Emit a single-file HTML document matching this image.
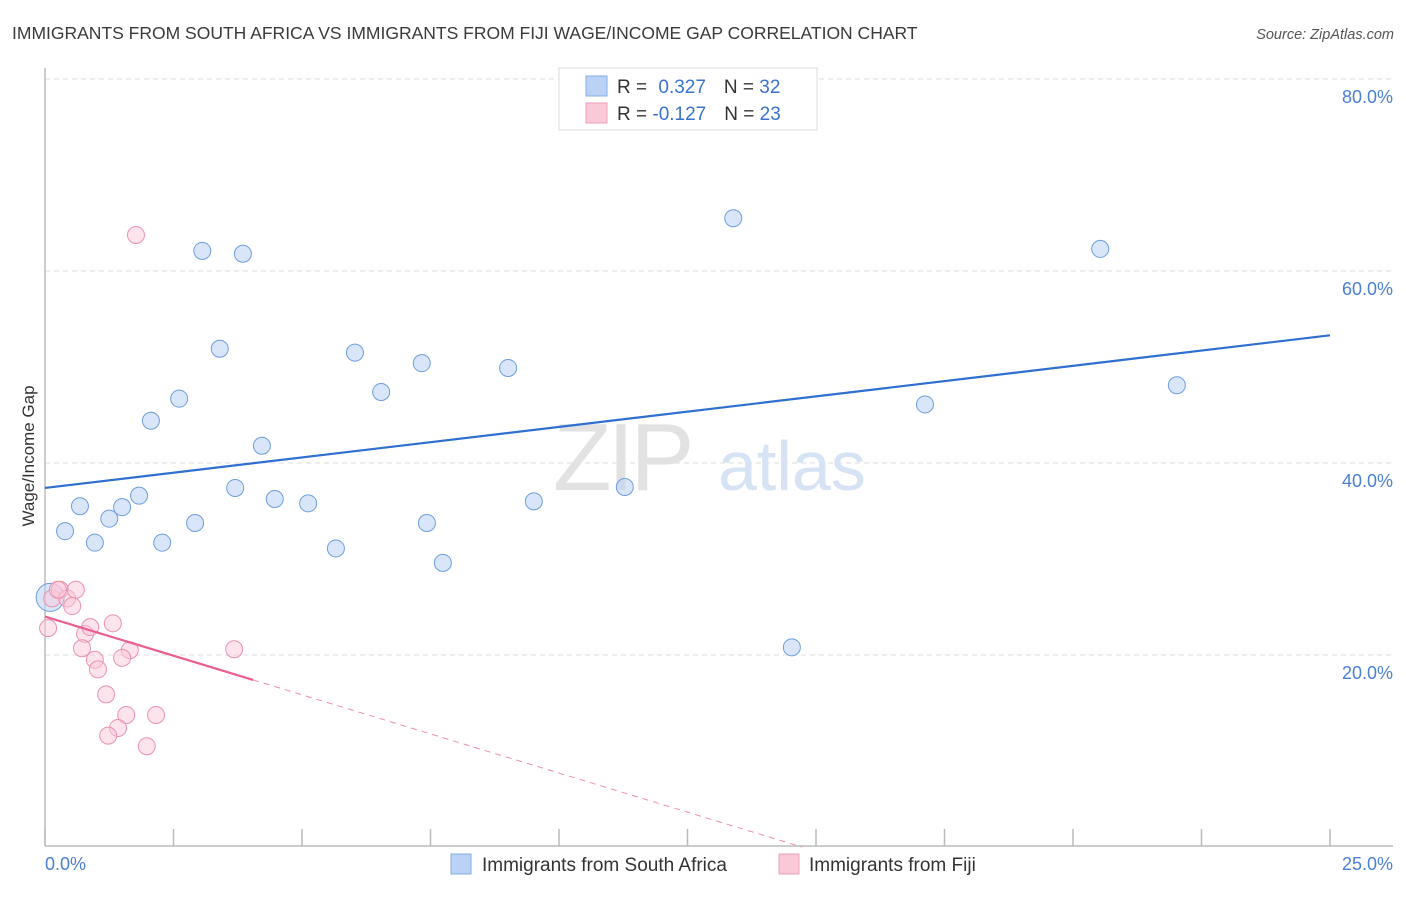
<!DOCTYPE html>
<html><head><meta charset="utf-8"><style>
body{margin:0;background:#fff;font-family:"Liberation Sans",sans-serif}
svg text{font-family:"Liberation Sans",sans-serif}
</style></head><body>
<svg id="chart" width="1406" height="892" viewBox="0 0 1406 892" xmlns="http://www.w3.org/2000/svg">
<text x="12" y="39" font-size="17.5" fill="#3a3a3a">IMMIGRANTS FROM SOUTH AFRICA VS IMMIGRANTS FROM FIJI WAGE/INCOME GAP CORRELATION CHART</text>
<text x="1394" y="39" font-size="14.5" fill="#555" font-style="italic" text-anchor="end">Source: ZipAtlas.com</text>
<g id="grid"></g>
<g>
<text x="553" y="490" font-size="96" fill="#e2e2e2" font-family="Liberation Serif" letter-spacing="-4">ZIP</text>
<text x="718" y="490" font-size="70" fill="#d6e3f4">atlas</text>
</g>
<line x1="45" y1="68" x2="45" y2="846" stroke="#bbb" stroke-width="1.5"/>
<line x1="45" y1="846" x2="1393" y2="846" stroke="#bbb" stroke-width="1.5"/>
<g id="xticks"></g>
<g id="ylabels"></g>
<text transform="translate(34,456) rotate(-90)" font-size="17" fill="#333" text-anchor="middle">Wage/Income Gap</text>
<text x="45" y="870" font-size="18" fill="#4a7fd4">0.0%</text>
<text x="1393" y="870" font-size="18" fill="#4a7fd4" text-anchor="end">25.0%</text>
<g id="pts"></g>
<g id="trends"></g>
<g>
<rect x="559" y="68" width="258" height="62" fill="#fff" stroke="#ddd"/>
<rect x="586" y="76" width="21" height="20" fill="#b9d2f5" stroke="#86aee6"/>
<rect x="586" y="103" width="21" height="20" fill="#fbc8d7" stroke="#eea0b8"/>
<text x="617" y="93" font-size="19" fill="#333">R = <tspan fill="#3a73cf" dx="6">0.327</tspan><tspan dx="18" fill="#333">N = </tspan><tspan fill="#3a73cf">32</tspan></text>
<text x="617" y="120" font-size="19" fill="#333">R = <tspan fill="#3a73cf">-0.127</tspan><tspan dx="18" fill="#333">N = </tspan><tspan fill="#3a73cf">23</tspan></text>
</g>
<g>
<rect x="451" y="854" width="20" height="20" fill="#b9d2f5" stroke="#86aee6"/>
<text x="482" y="871" font-size="19" fill="#333">Immigrants from South Africa</text>
<rect x="779" y="854" width="20" height="20" fill="#fbc8d7" stroke="#eea0b8"/>
<text x="809" y="871" font-size="19" fill="#333">Immigrants from Fiji</text>
</g>
</svg>
<script>
const saX=[0.39,0.68,0.97,1.25,1.50,1.83,2.06,2.28,2.61,2.92,3.06,3.40,3.70,3.85,4.22,4.47,5.12,5.66,6.03,6.54,7.33,7.43,7.74,9.01,9.51,11.28,13.39,14.53,17.12,20.53,22.02,0.10];
const saY=[32.9,35.5,31.7,34.2,35.4,36.6,44.4,31.7,46.7,33.75,62.1,51.9,37.4,61.8,41.8,36.25,35.8,31.1,51.5,47.4,50.4,33.75,29.6,49.9,36.0,37.5,65.5,20.8,46.1,62.3,48.1,26.0];
const fjX=[1.77,0.14,0.29,0.43,0.60,0.53,0.06,0.78,0.88,0.72,1.32,0.97,1.03,1.65,1.50,3.68,1.19,1.58,2.16,1.42,1.23,1.98,0.25];
const fjY=[63.75,25.9,26.8,25.9,26.8,25.1,22.8,22.2,22.9,20.7,23.3,19.5,18.5,20.5,19.7,20.6,15.9,13.75,13.75,12.4,11.6,10.5,26.8];
const yTicks=[20,40,60,80];
const xTickVals=[0,2.5,5,7.5,10,12.5,15,17.5,20,22.5,25];
const saTrend=[37.4,53.3];
const fjTrend=[24.0,17.4];
const fjSolidEnd=4.05;
const NS="http://www.w3.org/2000/svg";
const X=v=>45+v*51.4, Y=v=>847-v*9.6;
function el(t,a,p){const e=document.createElementNS(NS,t);for(const k in a)e.setAttribute(k,a[k]);document.getElementById(p).appendChild(e);return e;}
yTicks.forEach(t=>{
 const l=el('line',{x1:45,x2:1393,y1:Y(t),y2:Y(t),stroke:'#ddd','stroke-dasharray':'5,4'},'grid');
 
 
 const tx=el('text',{x:1393,y:Y(t)+24,'font-size':18,fill:'#4a7fd4','text-anchor':'end'},'ylabels');
 tx.textContent=t.toFixed(1)+'%';
 
 
});
xTickVals.forEach(t=>{
 const l=el('line',{x1:X(t),x2:X(t),y1:829,y2:846,stroke:'#bbb','stroke-width':1.5},'xticks');
 
 
});
saX.forEach((x,i)=>{
 const big=i===saX.length-1;
 const c=el('circle',{cx:X(x),cy:Y(saY[i]),r:big?14:8.5,fill:'rgba(185,210,245,0.55)',stroke:'#6e9ede','stroke-width':1},'pts');
 
 
});
fjX.forEach((x,i)=>{
 const c=el('circle',{cx:X(x),cy:Y(fjY[i]),r:8.5,fill:'rgba(251,200,215,0.5)',stroke:'#ec92af','stroke-width':1},'pts');
 
 
});
const sl=(fjTrend[1]-fjTrend[0])/fjSolidEnd;
const zeroX=-fjTrend[0]/sl;
let t1=el('line',{x1:X(0),y1:Y(saTrend[0]),x2:X(25),y2:Y(saTrend[1]),stroke:'#2f6fd0','stroke-width':2.2},'trends');


let t2=el('line',{x1:X(0),y1:Y(fjTrend[0]),x2:X(fjSolidEnd),y2:Y(fjTrend[1]),stroke:'#e8608e','stroke-width':2.2},'trends');


let t3=el('line',{x1:X(fjSolidEnd),y1:Y(fjTrend[1]),x2:X(zeroX),y2:Y(0),stroke:'#ec8fae','stroke-width':1,'stroke-dasharray':'6,5'},'trends');


</script>
</body></html>
